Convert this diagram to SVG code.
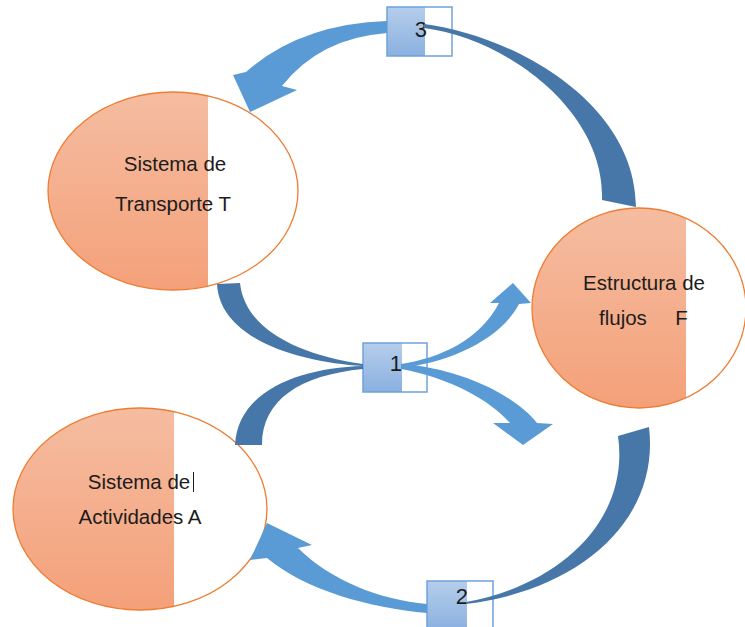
<svg xmlns="http://www.w3.org/2000/svg" width="745" height="627" viewBox="0 0 745 627">
<defs>
<linearGradient id="gOr" x1="0" y1="0" x2="0" y2="1">
<stop offset="0" stop-color="#F5BDA1"/>
<stop offset="1" stop-color="#F4A079"/>
</linearGradient>
<linearGradient id="gBl" x1="0" y1="0" x2="0" y2="1">
<stop offset="0" stop-color="#B5CEEB"/>
<stop offset="1" stop-color="#8AB0E0"/>
</linearGradient>
<clipPath id="cT"><ellipse cx="173" cy="191" rx="125" ry="99"/></clipPath>
<clipPath id="cF"><ellipse cx="639" cy="308" rx="107" ry="100"/></clipPath>
<clipPath id="cA"><ellipse cx="140" cy="509" rx="127" ry="101"/></clipPath>
<style>
.light{fill:#5B9BD5}
.dark{fill:#4677A8}
.ell{fill:none;stroke:#ED7D31;stroke-width:1.3}
.box{fill:none;stroke:#6FA3DC;stroke-width:1.5}
.lbl{font-family:"Liberation Sans",Arial,sans-serif;font-size:20.5px;fill:#1c1c1c}
.num{font-family:"Liberation Sans",Arial,sans-serif;font-size:22px;fill:#1c1c1c;text-anchor:end}
</style>
</defs>
<rect width="745" height="627" fill="#ffffff"/>
<g id="nodeT">
<ellipse cx="173" cy="191" rx="125" ry="99" fill="#ffffff"/>
<rect x="40" y="90" width="168" height="205" fill="url(#gOr)" clip-path="url(#cT)"/>
<ellipse class="ell" cx="173" cy="191" rx="125" ry="99"/>
<text class="lbl" x="175" y="171" text-anchor="middle">Sistema de</text>
<text class="lbl" x="173" y="211" text-anchor="middle">Transporte T</text>
</g>
<g id="nodeF">
<ellipse cx="639" cy="308" rx="107" ry="100" fill="#ffffff"/>
<rect x="530" y="205" width="156" height="206" fill="url(#gOr)" clip-path="url(#cF)"/>
<ellipse class="ell" cx="639" cy="308" rx="107" ry="100"/>
<text class="lbl" x="644" y="290" text-anchor="middle">Estructura de</text>
<text class="lbl" x="599" y="325" style="white-space:pre" xml:space="preserve">flujos     F</text>
</g>
<g id="nodeA">
<ellipse cx="140" cy="509" rx="127" ry="101" fill="#ffffff"/>
<rect x="10" y="405" width="164" height="208" fill="url(#gOr)" clip-path="url(#cA)"/>
<ellipse class="ell" cx="140" cy="509" rx="127" ry="101"/>
<text class="lbl" x="139" y="489" text-anchor="middle">Sistema de</text>
<line x1="193.5" y1="472" x2="193.5" y2="492" stroke="#1c1c1c" stroke-width="1"/>
<text class="lbl" x="140" y="524" text-anchor="middle">Actividades A</text>
</g>
<g id="box3">
<rect x="387" y="7" width="65" height="49" fill="#ffffff"/>
<rect x="387" y="7" width="38" height="49" fill="url(#gBl)"/>
<rect class="box" x="387" y="7" width="65" height="49"/>
<text class="num" x="427" y="37">3</text>
</g>
<g id="box1">
<rect x="363" y="343" width="64" height="49" fill="#ffffff"/>
<rect x="363" y="343" width="39" height="49" fill="url(#gBl)"/>
<rect class="box" x="363" y="343" width="64" height="49"/>
<text class="num" x="402" y="371">1</text>
</g>
<g id="box2">
<rect x="427" y="581" width="66" height="50" fill="#ffffff"/>
<rect x="427" y="581" width="40" height="50" fill="url(#gBl)"/>
<rect class="box" x="427" y="581" width="66" height="50"/>
<text class="num" x="468" y="604">2</text>
</g>
<g id="connectors">
<path class="light" d="M 387,21 Q 300,24 246,72 L 233,75 L 250,112 L 297,90 L 282,86 Q 320,38 387,33 Z"/>
<path class="dark" d="M 424,24 C 510,35 635,100 636,207 L 602,200 C 605,110 505,38 424,28 Z"/>
<path class="dark" d="M 217,284 C 220,340 300,362 363,366 L 363,364 C 300,355 245,330 240,283 Z"/>
<path class="dark" d="M 235,445 C 238,390 300,368 363,366 L 363,369 C 300,375 262,400 262,445 Z"/>
<path class="light" d="M 401,364 C 440,358 480,340 499,303 L 490,303 L 513,283 L 531,303 L 519,304 C 500,340 450,362 401,368 Z"/>
<path class="light" d="M 401,364 C 460,368 515,395 537,423 L 553,424 L 523,445 L 493,423 L 510,423 C 490,400 450,378 401,369 Z"/>
<path class="dark" d="M 649,427 C 660,520 580,590 466,604 L 466,602 C 560,585 630,520 618,436 Z"/>
<path class="light" d="M 427,613 C 370,608 305,590 267,558 L 250,560 L 267,523 L 312,545 L 298,548 C 330,580 380,600 427,604 Z"/>
</g>
</svg>
